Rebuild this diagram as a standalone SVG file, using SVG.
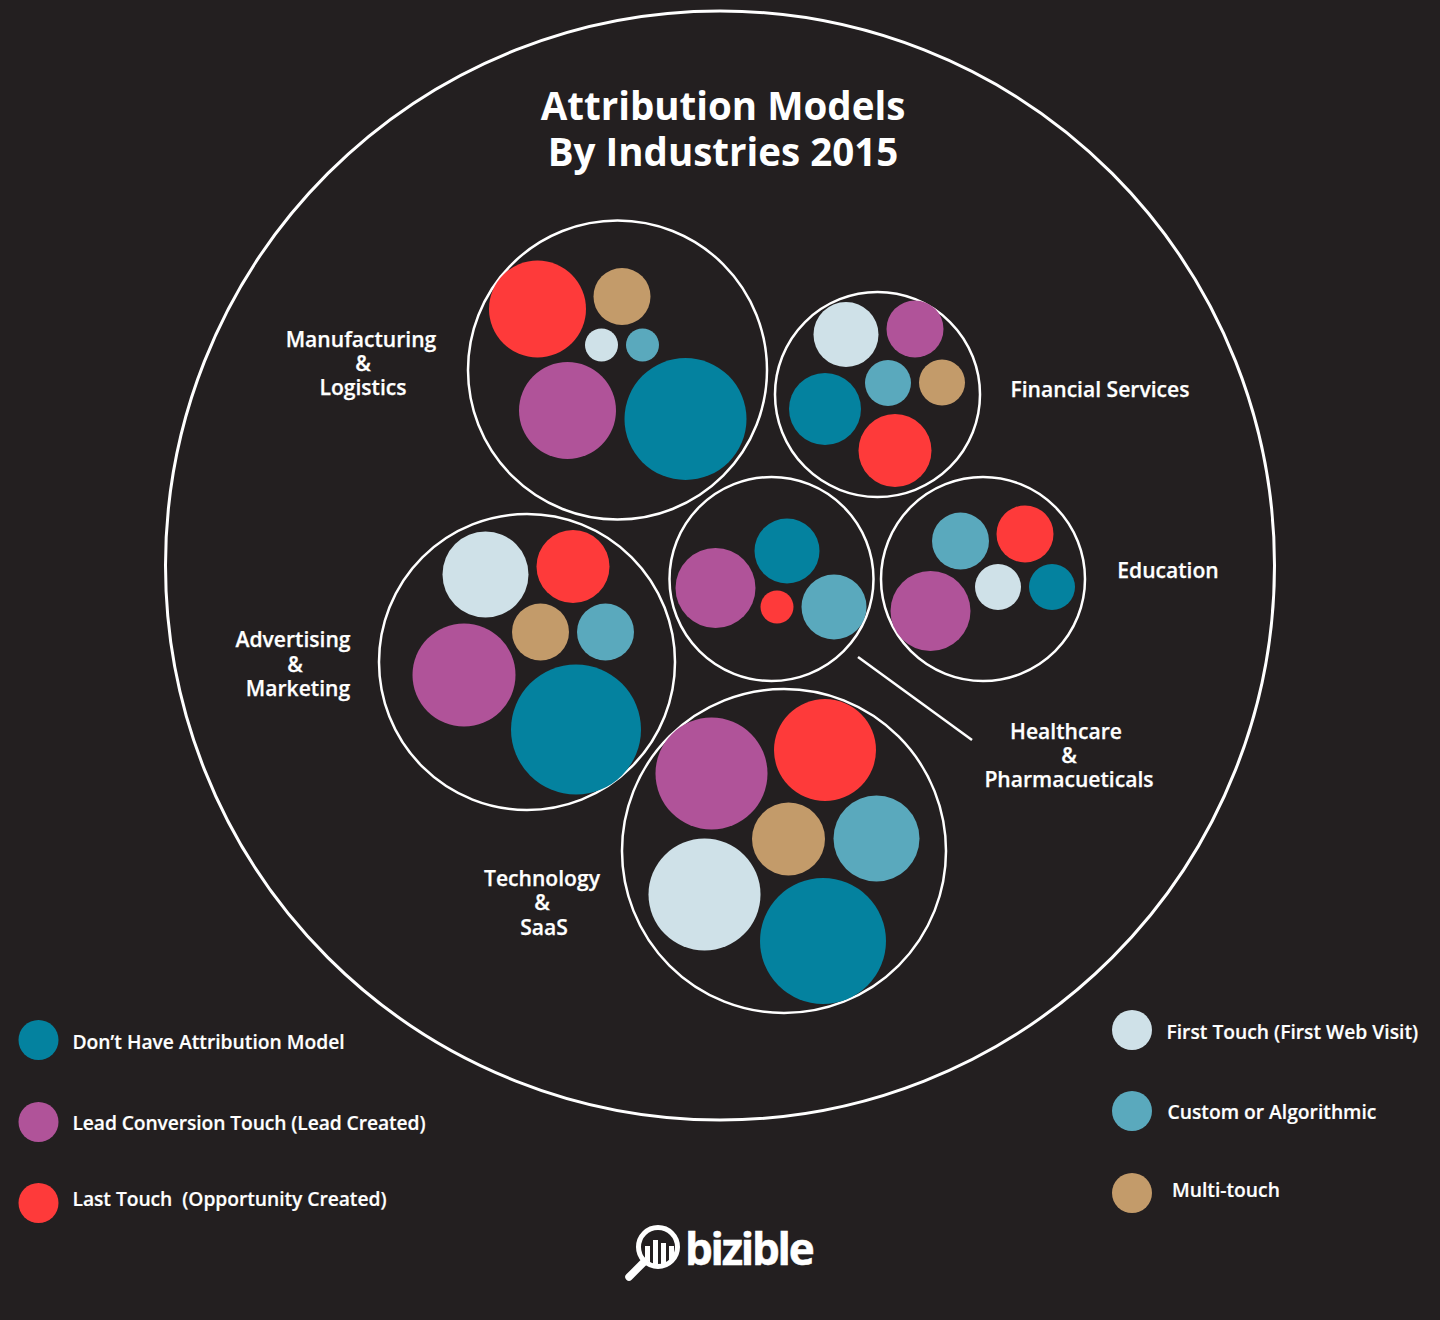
<svg xmlns="http://www.w3.org/2000/svg" width="1440" height="1320" viewBox="0 0 1440 1320">
<style>
text{font-family:"Open Sans","Noto Sans","DejaVu Sans",sans-serif;fill:#fff}
.t{font-size:38.500px;font-weight:700;text-anchor:middle}
.l{font-size:21.100px;font-weight:600;text-anchor:middle;stroke:#fff;stroke-width:.25px}
.k{font-size:19.250px;font-weight:600;stroke:#fff;stroke-width:.2px}
.ring{fill:none;stroke:#fff;stroke-width:2.500}
.b{fill:#04829f}.p{fill:#b05399}.r{fill:#fe3a3a}.w{fill:#cfe1e8}.c{fill:#5aa9bd}.m{fill:#c39b6a}
</style>
<rect width="1440" height="1320" fill="#231f20"/>
<g id="outer"><circle class="ring" cx="720" cy="565.500" r="554.500" style="stroke-width:3"/></g>
<g id="title">
<text class="t" x="723" y="119.500">Attribution Models</text>
<text class="t" x="723" y="165.500">By Industries 2015</text>
</g>
<g id="manufacturing">
<circle class="ring" cx="617.500" cy="370" r="149.500"/>
<circle class="r" cx="537.500" cy="309" r="48.500"/>
<circle class="m" cx="622" cy="296.500" r="28.500"/>
<circle class="w" cx="601.500" cy="345" r="16.500"/>
<circle class="c" cx="642.500" cy="345" r="16.500"/>
<circle class="p" cx="567.500" cy="410.500" r="48.500"/>
<circle class="b" cx="685.500" cy="419" r="61"/>
<text class="l"><tspan x="361" y="346.500">Manufacturing</tspan><tspan x="363" y="370.500">&amp;</tspan><tspan x="363" y="395">Logistics</tspan></text>
</g>
<g id="financial">
<circle class="ring" cx="877.500" cy="394.500" r="102.500"/>
<circle class="w" cx="846" cy="334.500" r="32.500"/>
<circle class="p" cx="915" cy="329" r="28.500"/>
<circle class="c" cx="888" cy="383" r="23"/>
<circle class="m" cx="942" cy="382.500" r="23"/>
<circle class="b" cx="825" cy="409" r="36"/>
<circle class="r" cx="895" cy="450.500" r="36.500"/>
<text class="l" x="1100" y="397">Financial Services</text>
</g>
<g id="healthcare">
<circle class="ring" cx="771.500" cy="579" r="102"/>
<circle class="b" cx="787" cy="551" r="32.500"/>
<circle class="p" cx="715.500" cy="588" r="40"/>
<circle class="r" cx="777" cy="607" r="16.500"/>
<circle class="c" cx="834" cy="607" r="32.500"/>
<text class="l"><tspan x="1066" y="738.500">Healthcare</tspan><tspan x="1069" y="763">&amp;</tspan><tspan x="1069" y="787">Pharmacueticals</tspan></text>
</g>
<g id="education">
<circle class="ring" cx="983" cy="579" r="102"/>
<circle class="c" cx="960.500" cy="541" r="28.500"/>
<circle class="r" cx="1025" cy="534" r="28.500"/>
<circle class="w" cx="998" cy="587" r="23"/>
<circle class="b" cx="1052" cy="587" r="23"/>
<circle class="p" cx="930.500" cy="611" r="40"/>
<text class="l" x="1168" y="578">Education</text>
</g>
<g id="advertising">
<circle class="ring" cx="527" cy="662" r="148"/>
<circle class="w" cx="485.500" cy="574.500" r="43"/>
<circle class="r" cx="573" cy="566.500" r="36.500"/>
<circle class="m" cx="540.500" cy="632" r="28.500"/>
<circle class="c" cx="605.500" cy="632" r="28.500"/>
<circle class="p" cx="464" cy="675" r="51.500"/>
<circle class="b" cx="576" cy="729.500" r="65"/>
<text class="l"><tspan x="293" y="647">Advertising</tspan><tspan x="295" y="671.500">&amp;</tspan><tspan x="298" y="696">Marketing</tspan></text>
</g>
<g id="technology">
<circle class="ring" cx="784" cy="851" r="162"/>
<circle class="p" cx="711.500" cy="773.500" r="56"/>
<circle class="r" cx="825" cy="750" r="51"/>
<circle class="m" cx="788.500" cy="839" r="36.500"/>
<circle class="c" cx="876.500" cy="838.500" r="43"/>
<circle class="w" cx="704.500" cy="894.500" r="56"/>
<circle class="b" cx="823" cy="941" r="63"/>
<text class="l"><tspan x="542" y="886">Technology</tspan><tspan x="542" y="910">&amp;</tspan><tspan x="544" y="935">SaaS</tspan></text>
</g>
<g id="connectors">
<line x1="858" y1="657" x2="972" y2="740" stroke="#fff" stroke-width="2.500"/>
</g>
<g id="legend">
<circle class="b" cx="38.500" cy="1040" r="20"/>
<text class="k" x="72.500" y="1049">Don’t Have Attribution Model</text>
<circle class="p" cx="38.500" cy="1122" r="20"/>
<text class="k" x="72.500" y="1130" textLength="353" lengthAdjust="spacing">Lead Conversion Touch (Lead Created)</text>
<circle class="r" cx="38.500" cy="1203" r="20"/>
<text class="k" x="72.500" y="1206" xml:space="preserve" textLength="314" lengthAdjust="spacing">Last Touch  (Opportunity Created)</text>
<circle class="w" cx="1132" cy="1030" r="20"/>
<text class="k" x="1166.500" y="1039">First Touch (First Web Visit)</text>
<circle class="c" cx="1132" cy="1111" r="20"/>
<text class="k" x="1167.500" y="1119">Custom or Algorithmic</text>
<circle class="m" cx="1132" cy="1193" r="20"/>
<text class="k" x="1172" y="1197">Multi-touch</text>
</g>
<g id="logo">
<circle cx="658" cy="1247" r="19.500" fill="none" stroke="#fff" stroke-width="5"/>
<line x1="644" y1="1262" x2="629" y2="1277" stroke="#fff" stroke-width="7.500" stroke-linecap="round"/>
<path d="M645 1246h5v16.500q-3-1.500-5-4zM653 1240h5v24.500q-2.500 0-5-.5zM661 1243h5v20.500q-2.500 1-5 1zM669 1246h5v11q-2 3-5 5z" fill="#fff"/>
<text x="685" y="1265" font-size="44" font-weight="700" letter-spacing="-2.300" style="stroke:#fff;stroke-width:.5px">bizible</text>
</g>
</svg>
